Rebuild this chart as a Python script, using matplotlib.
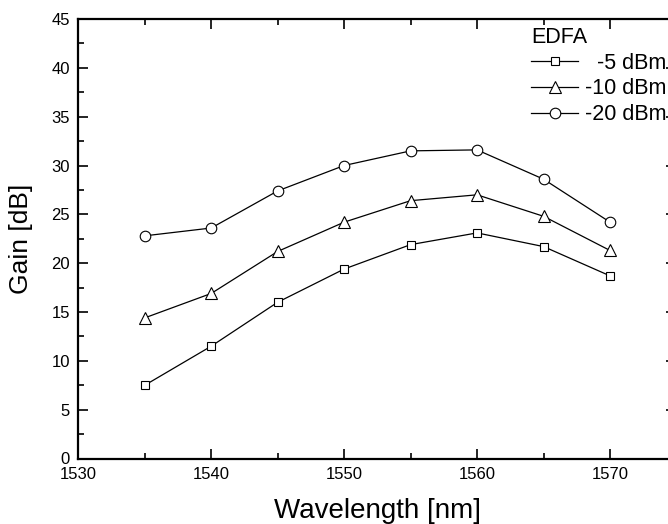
"""EDFA gain vs wavelength"""

import matplotlib
matplotlib.use("Agg")
import matplotlib.pyplot as plt
from matplotlib.ticker import MultipleLocator

plt.rcParams["font.family"] = ["Liberation Sans", "DejaVu Sans"]

wavelength = [1535, 1540, 1545, 1550, 1555, 1560, 1565, 1570]
gain_5dbm = [7.5, 11.5, 16.0, 19.4, 21.9, 23.1, 21.7, 18.7]
gain_10dbm = [14.4, 16.9, 21.2, 24.2, 26.4, 27.0, 24.8, 21.3]
gain_20dbm = [22.8, 23.6, 27.4, 30.0, 31.5, 31.6, 28.6, 24.2]
labels = ["  -5 dBm", "-10 dBm", "-20 dBm"]
markers = ["s", "^", "o"]
marker_sizes = [6.2, 8, 7.6]

fig = plt.figure(figsize=(6.68, 5.24), dpi=100)
ax = fig.add_axes([0.1172, 0.125, 0.8955, 0.8387])

for gain, lab, mk, ms in zip([gain_5dbm, gain_10dbm, gain_20dbm], labels,
                             markers, marker_sizes):
    ax.plot(wavelength, gain, color="black", lw=0.9, marker=mk,
            markersize=ms, markerfacecolor="white",
            markeredgecolor="black", markeredgewidth=0.8, label=lab)

ax.set_xlim(1530, 1575)
ax.set_ylim(0, 45)
ax.xaxis.set_major_locator(MultipleLocator(10))
ax.xaxis.set_minor_locator(MultipleLocator(5))
ax.yaxis.set_major_locator(MultipleLocator(5))
ax.yaxis.set_minor_locator(MultipleLocator(2.5))
ax.tick_params(which="both", direction="in", top=True, right=True,
               labelsize=12, width=1.2, pad=6)
ax.tick_params(which="major", length=7)
ax.tick_params(which="minor", length=4)
for s in ax.spines.values():
    s.set_linewidth(1.6)

ax.set_xlabel("Wavelength [nm]", fontsize=20, labelpad=12)
ax.set_ylabel("Gain [dB]", fontsize=19, labelpad=13)

leg = ax.legend(title="EDFA", loc="upper left",
                bbox_to_anchor=(531 / 668, 1 - 27 / 524),
                bbox_transform=fig.transFigure, frameon=False,
                fontsize=15.5, title_fontsize=15.5, handlelength=2.2,
                handletextpad=0.3, labelspacing=0.22, borderpad=0,
                borderaxespad=0)
leg._legend_box.align = "left"

fig.savefig("out.png", dpi=100)
